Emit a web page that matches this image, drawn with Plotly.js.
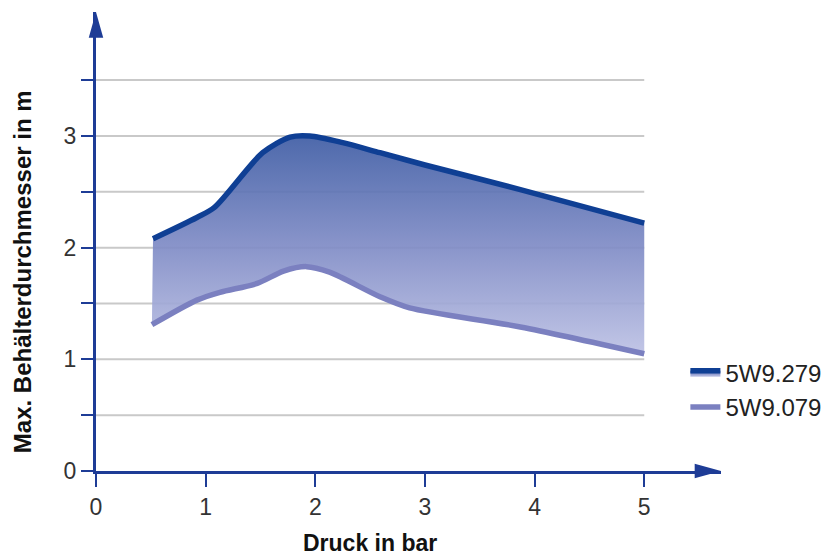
<!DOCTYPE html>
<html>
<head>
<meta charset="utf-8">
<script src="https://cdn.plot.ly/plotly-3.0.1.min.js"></script>
<style>html,body{margin:0;padding:0;background:#fff}#chart{width:828px;height:555px}</style>
</head>
<body>
<div id="chart"></div>
<script>
// Data
const xHigh = [0.52, 0.92, 1.08, 1.52, 1.77, 1.95, 2.25, 2.59, 3.0, 3.87, 5.0];
const yHigh = [2.08, 2.27, 2.36, 2.85, 2.99, 3.0, 2.94, 2.85, 2.74, 2.52, 2.22];
const xLow = [0.51, 0.92, 1.13, 1.47, 1.71, 1.92, 2.13, 2.59, 2.86, 3.87, 5.0];
const yLow = [1.31, 1.53, 1.60, 1.68, 1.79, 1.83, 1.78, 1.56, 1.46, 1.29, 1.05];
const seriesNames = ['5W9.279', '5W9.079'];
const xTicks = [0, 1, 2, 3, 4, 5];
const yTicks = [0, 0.5, 1, 1.5, 2, 2.5, 3, 3.5];
const yTickText = ['0', '', '1', '', '2', '', '3', ''];
const gridVals = [0.5, 1, 1.5, 2, 2.5, 3, 3.5];

const X_MAX = 5.7, Y_MAX = 4.11;
const AX = '#1e3c96';

const traces = [
  {x: xLow, y: yLow, name: seriesNames[1], mode: 'lines', line: {color: '#7b80c0', width: 5.5, shape: 'spline', smoothing: 0.8}},
  {x: xHigh, y: yHigh, name: seriesNames[0], mode: 'lines', line: {color: '#0f3f94', width: 5.5, shape: 'spline', smoothing: 0.8},
   fill: 'tonexty',
   fillgradient: {type: 'vertical', start: 1.0, stop: 3.0,
     colorscale: [[0, 'rgba(192,196,230,0.92)'], [0.5, 'rgba(128,140,198,0.92)'], [1, 'rgba(62,92,164,0.92)']]}}
];

const shapes = gridVals.map(v => ({type: 'line', xref: 'x', yref: 'y', x0: 0, x1: 5, y0: v, y1: v, layer: 'below', line: {color: '#c9c9c9', width: 2}}));
const px = v => v / X_MAX, py = v => v / Y_MAX;
// arrow heads (decoration)
shapes.push({type: 'path', xref: 'paper', yref: 'paper', fillcolor: AX, line: {width: 0},
  path: `M ${px(-0.066)} ${py(3.88)} L ${px(0.066)} ${py(3.88)} L ${px(0)} ${py(4.11)} Z`});
shapes.push({type: 'path', xref: 'paper', yref: 'paper', fillcolor: AX, line: {width: 0},
  path: `M ${px(5.46)} ${py(-0.065)} L ${px(5.46)} ${py(0.065)} L ${px(5.7)} ${py(0)} Z`});

const layout = {
  width: 828, height: 555,
  margin: {l: 96, r: 107, t: 12, b: 84, autoexpand: false},
  paper_bgcolor: '#fff', plot_bgcolor: '#fff',
  font: {family: 'Liberation Sans, Arial, sans-serif', size: 22, color: '#222'},
  showlegend: true,
  legend: {x: 0.943, y: 0.262, xanchor: 'left', yanchor: 'top', traceorder: 'reversed',
           font: {size: 24, color: '#222'}, bgcolor: 'rgba(0,0,0,0)', itemwidth: 30, tracegroupgap: 0},
  xaxis: {range: [0, X_MAX], tickvals: xTicks, ticktext: xTicks.map(String), showgrid: false, zeroline: false,
          showline: true, linecolor: AX, linewidth: 3, ticks: 'outside', ticklen: 13, tickwidth: 2, tickcolor: AX,
          tickfont: {size: 23, color: '#333'}, fixedrange: true, automargin: false},
  yaxis: {range: [0, Y_MAX], tickvals: yTicks, ticktext: yTickText, showgrid: false, zeroline: false,
          showline: true, linecolor: AX, linewidth: 3, ticks: 'outside', ticklen: 12, tickwidth: 2, tickcolor: AX,
          tickfont: {size: 23, color: '#333'}, fixedrange: true, automargin: false},
  shapes: shapes,
  annotations: [
    {text: '<b>Druck in bar</b>', xref: 'x', yref: 'paper', x: 2.5, y: 0, yshift: -72, showarrow: false,
     font: {size: 23, color: '#111'}, xanchor: 'center', yanchor: 'middle'},
    {text: '<b>Max. Behälterdurchmesser in m</b>', xref: 'paper', yref: 'y', x: 0, xshift: -74, y: 1.78, showarrow: false,
     textangle: -90, font: {size: 24, color: '#111'}, xanchor: 'center', yanchor: 'middle'}
  ]
};

Plotly.newPlot('chart', traces, layout, {displayModeBar: false, staticPlot: true});
</script>
</body>
</html>
